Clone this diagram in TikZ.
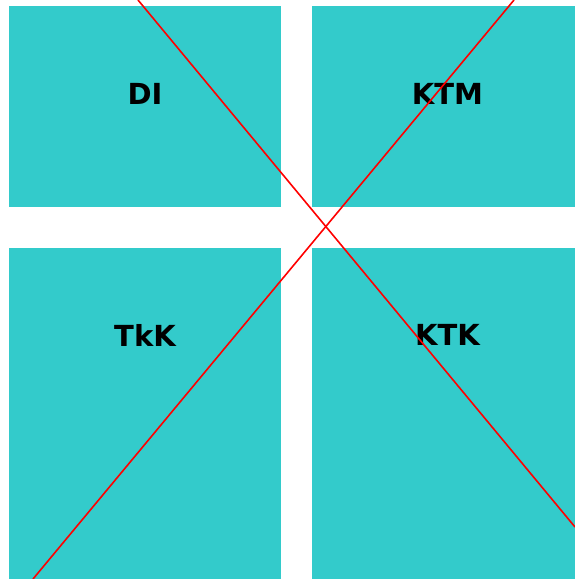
\documentclass[tikz,border=0pt]{standalone}
\usepackage{fontspec}
\setmainfont{DejaVu Sans}
\definecolor{tealbox}{HTML}{33CBCB}
\begin{document}
\begin{tikzpicture}[x=1pt,y=-1pt,
  box/.style={fill=tealbox,draw=none},
  lbl/.style={font=\bfseries\fontsize{29}{30}\selectfont,text=black,inner sep=0pt},
  cross/.style={draw=red,line width=1.6pt}]
\useasboundingbox (0,0) rectangle (575,579);
\begin{scope}
\clip (0,0) rectangle (575,579);
\fill[box] (9,6) rectangle (281,207);
\fill[box] (312,6) rectangle (584,207);
\fill[box] (9,248) rectangle (281,590);
\fill[box] (312,248) rectangle (584,590);
\node[lbl] (di) at (145,94) {DI};
\node[lbl] (ktm) at (447.5,94) {KTM};
\node[lbl] (tkk) at (145,335) {TkK};
\node[lbl] (ktk) at (447.5,335) {KTK};
\coordinate (a1) at (138,0);
\coordinate (a2) at (575,527);
\coordinate (b1) at (514,0);
\coordinate (b2) at (33,579);
\draw[cross] (a1) -- (a2);
\draw[cross] (b1) -- (b2);
\end{scope}
\end{tikzpicture}
\end{document}
